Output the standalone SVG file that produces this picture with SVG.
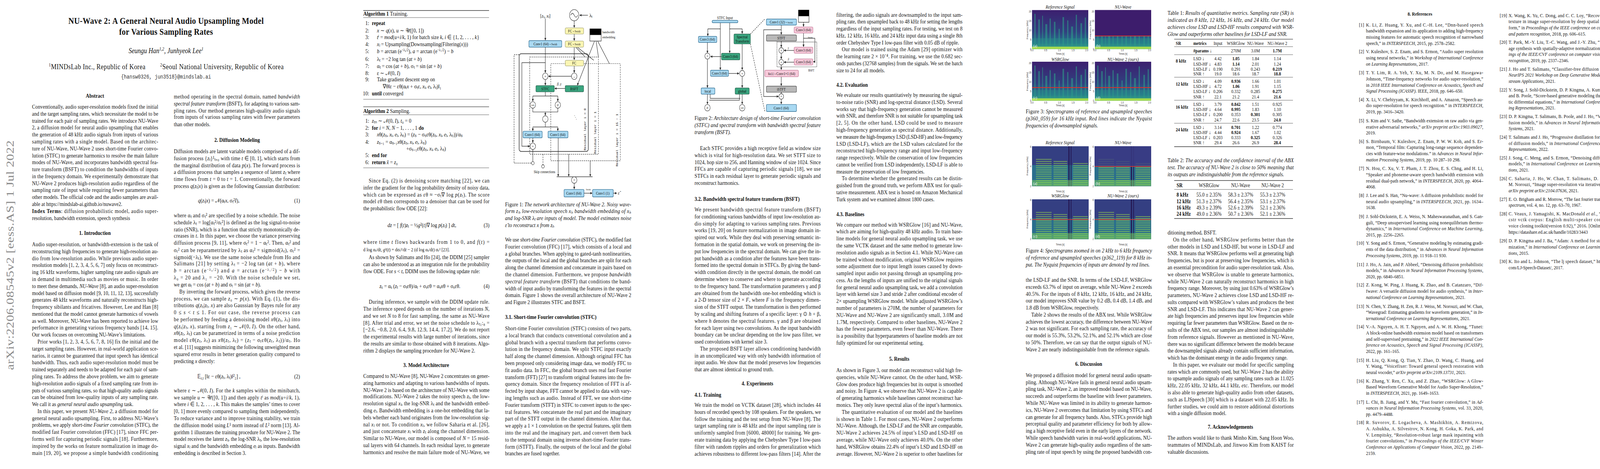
<svg xmlns="http://www.w3.org/2000/svg" xmlns:xlink="http://www.w3.org/1999/xlink" width="4240" height="1200" viewBox="0 0 4240 1200">
<style>
text{font-family:"Liberation Serif",serif;fill:#111}
.b text{font-size:12.6px}
.i{font-style:italic}
.bd{font-weight:bold}
.h1{font-size:17px;font-weight:bold;text-anchor:middle}
.h2{font-size:13.2px;font-weight:bold}
.r text{font-size:11.2px}
.rn{text-anchor:end}
.f{font-size:8.5px}
.fm{font-size:7.5px;font-family:"Liberation Mono",monospace}
.tk{font-size:5.5px;fill:#333;font-family:"Liberation Sans",sans-serif}
.cap{font-style:italic}
.bl{fill:#a9d9f2;stroke:#1f5f86;stroke-width:1}
.ye{fill:#fbf6b4;stroke:#8a8a55;stroke-width:.8}
.gr{fill:#3aa57f;stroke:#1b5a44;stroke-width:1}
.pk{fill:#f7c9da;stroke:#b05a7e;stroke-width:.8}
.gy{fill:#b8b8b8;stroke:#444;stroke-width:1}
.ln{fill:none;stroke:#222;stroke-width:1}
.ar{fill:none;stroke:#222;stroke-width:1;marker-end:url(#ah)}
.ds{fill:none;stroke:#222;stroke-width:1;stroke-dasharray:3 2}
.dt{fill:none;stroke:#222;stroke-width:1.2;stroke-dasharray:1.5 1.5}
.cw{fill:#fff;stroke:#222;stroke-width:.9}
.rule{stroke:#111;stroke-width:1}
.rule2{stroke:#111;stroke-width:.6}
.mid{text-anchor:middle}
.end{text-anchor:end}
.t text{font-size:10.6px}
</style>
<defs>
<marker id="ah" viewBox="0 0 6 6" refX="5.5" refY="3" markerWidth="5" markerHeight="5" orient="auto"><path d="M0,0 L6,3 L0,6 z" fill="#222"/></marker>
<linearGradient id="vg" x1="0" y1="0" x2="0" y2="1"><stop offset="0" stop-color="#3c1f6f"/><stop offset=".55" stop-color="#31407f"/><stop offset=".85" stop-color="#24778c"/><stop offset="1" stop-color="#44b27a"/></linearGradient>
<pattern id="harm" width="6" height="4.5" patternUnits="userSpaceOnUse"><rect width="6" height="1.8" fill="#9ad84a" opacity=".6"/></pattern>
<g id="spec3">
<rect width="144" height="83" fill="url(#vg)"/>
<g fill="#2ea38a" opacity=".55">
<rect x="6" y="8" width="3" height="75"/><rect x="16" y="20" width="4" height="63"/><rect x="26" y="12" width="2" height="71"/><rect x="34" y="30" width="5" height="53"/><rect x="45" y="18" width="3" height="65"/><rect x="56" y="25" width="4" height="58"/><rect x="68" y="40" width="3" height="43"/><rect x="78" y="15" width="4" height="68"/><rect x="90" y="22" width="3" height="61"/><rect x="100" y="35" width="5" height="48"/><rect x="112" y="10" width="3" height="73"/><rect x="124" y="28" width="4" height="55"/><rect x="135" y="16" width="3" height="67"/>
</g>
<rect x="0" y="60" width="144" height="23" fill="#2b8f8a" opacity=".4"/>
<rect x="0" y="78" width="144" height="5" fill="#a6db4e"/>
</g>
<g id="spec4">
<rect width="145" height="85" fill="#343f82"/>
<rect x="0" y="40" width="145" height="45" fill="#2a6e8d"/>
<rect x="10" y="25" width="40" height="60" fill="url(#harm)"/>
<rect x="55" y="30" width="35" height="55" fill="url(#harm)"/>
<rect x="105" y="35" width="38" height="50" fill="url(#harm)"/>
<rect x="93" y="0" width="3" height="85" fill="#261a55"/><rect x="99" y="0" width="2" height="85" fill="#261a55"/>
<rect x="0" y="72" width="145" height="13" fill="#7ccf57" opacity=".5"/>
</g>
</defs>
<rect width="4240" height="1200" fill="#fff"/>
<g transform="matrix(1,0,0,1.2015,0,-101.6)">

<!-- arXiv stamp -->
<text x="35" y="628" transform="rotate(-90 35 628)" text-anchor="middle" textLength="489" style="font-size:28px;fill:#8a8a8a">arXiv:2206.08545v2  [eess.AS]  1 Jul 2022</text>

<!-- Title block -->
<g id="title">
<text x="425" y="135" text-anchor="middle" textLength="500" style="font-size:20px;font-weight:bold">NU-Wave 2: A General Neural Audio Upsampling Model</text>
<text x="425" y="159" text-anchor="middle" textLength="240" style="font-size:20px;font-weight:bold">for Various Sampling Rates</text>
<text x="425" y="198" text-anchor="middle" style="font-size:16px;font-style:italic">Seungu Han<tspan style="font-size:10px" dy="-6">1,2</tspan><tspan dy="6">, Junhyeok Lee</tspan><tspan style="font-size:10px" dy="-6">1</tspan></text>
<text x="125" y="232" textLength="247" style="font-size:16px"><tspan style="font-size:10px" dy="-6">1</tspan><tspan dy="6">MINDsLab Inc., Republic of Korea</tspan></text>
<text x="410" y="232" textLength="316" style="font-size:16px"><tspan style="font-size:10px" dy="-6">2</tspan><tspan dy="6">Seoul National University, Republic of Korea</tspan></text>
<text x="425" y="252" text-anchor="middle" style="font-size:12px;font-family:'Liberation Mono',monospace;fill:#333">{hansw0326, jun3518}@mindslab.ai</text>
</g>

<g class="b" transform="translate(0,4)">
<!-- PAGE 1 COL 1 -->
<text class="h1" x="243" y="289">Abstract</text>
<text x="82" y="312" textLength="323">Conventionally, audio super-resolution models fixed the initial</text>
<text x="82" y="326.8" textLength="323">and the target sampling rates, which necessitate the model to be</text>
<text x="82" y="341.6" textLength="323">trained for each pair of sampling rates. We introduce NU-Wave</text>
<text x="82" y="356.4" textLength="323">2, a diffusion model for neural audio upsampling that enables</text>
<text x="82" y="371.2" textLength="323">the generation of 48 kHz audio signals from inputs of various</text>
<text x="82" y="386" textLength="323">sampling rates with a single model. Based on the architec-</text>
<text x="82" y="400.8" textLength="323">ture of NU-Wave, NU-Wave 2 uses short-time Fourier convo-</text>
<text x="82" y="415.6" textLength="323">lution (STFC) to generate harmonics to resolve the main failure</text>
<text x="82" y="430.4" textLength="323">modes of NU-Wave, and incorporates bandwidth spectral fea-</text>
<text x="82" y="445.2" textLength="323">ture transform (BSFT) to condition the bandwidths of inputs</text>
<text x="82" y="460" textLength="323">in the frequency domain. We experimentally demonstrate that</text>
<text x="82" y="474.8" textLength="323">NU-Wave 2 produces high-resolution audio regardless of the</text>
<text x="82" y="489.6" textLength="323">sampling rate of input while requiring fewer parameters than</text>
<text x="82" y="504.4" textLength="323">other models. The official code and the audio samples are avail-</text>
<text x="82" y="519.2">able at https://mindslab-ai.github.io/nuwave2.</text>
<text x="82" y="534" textLength="323"><tspan class="bd">Index Terms</tspan>: diffusion probabilistic model, audio super-</text>
<text x="82" y="548.8">resolution, bandwidth extension, speech synthesis</text>
<text class="h1" x="243" y="581">1. Introduction</text>
<text x="82" y="605" textLength="323">Audio super-resolution, or bandwidth-extension is the task of</text>
<text x="82" y="619.8" textLength="323">reconstructing high frequencies to generate high-resolution au-</text>
<text x="82" y="634.6" textLength="323">dio from low-resolution audio. While previous audio super-</text>
<text x="82" y="649.4" textLength="323">resolution models [1, 2, 3, 4, 5, 6, 7] only focus on reconstruct-</text>
<text x="82" y="664.2" textLength="323">ing 16 kHz waveforms, higher sampling rate audio signals are</text>
<text x="82" y="679" textLength="323">in demand in multimedia such as movies or music. In order</text>
<text x="82" y="693.8" textLength="323">to meet these demands, <tspan class="i">NU-Wave</tspan> [8], an audio super-resolution</text>
<text x="82" y="708.6" textLength="323">model based on diffusion model [9, 10, 11, 12, 13], successfully</text>
<text x="82" y="723.4" textLength="323">generates 48 kHz waveforms and naturally reconstructs high-</text>
<text x="82" y="738.2" textLength="323">frequency sibilants and fricatives. However, Lee and Han [8]</text>
<text x="82" y="753" textLength="323">mentioned that the model cannot generate harmonics of vowels</text>
<text x="82" y="767.8" textLength="323">as well. Moreover, NU-Wave has been reported to achieve low</text>
<text x="82" y="782.6" textLength="323">performance in generating various frequency bands [14, 15].</text>
<text x="82" y="797.4">Our work focuses on overcoming NU-Wave’s limitations.</text>
<text x="96" y="812.2" textLength="309">Prior works [1, 2, 3, 4, 5, 6, 7, 8, 16] fix the initial and the</text>
<text x="82" y="827" textLength="323">target sampling rates. However, in real-world application sce-</text>
<text x="82" y="841.8" textLength="323">narios, it cannot be guaranteed that input speech has identical</text>
<text x="82" y="856.6" textLength="323">bandwidth. Thus, each audio super-resolution model must be</text>
<text x="82" y="871.4" textLength="323">trained separately and needs to be adapted for each pair of sam-</text>
<text x="82" y="886.2" textLength="323">pling rates. To address the above problem, we aim to generate</text>
<text x="82" y="901" textLength="323">high-resolution audio signals of a fixed sampling rate from in-</text>
<text x="82" y="915.8" textLength="323">puts of various sampling rates, so that high-quality audio signals</text>
<text x="82" y="930.6" textLength="323">can be obtained from low-quality inputs of any sampling rate.</text>
<text x="82" y="945.4">We call it as <tspan class="i">general neural audio upsampling</tspan> task.</text>
<text x="96" y="960.2" textLength="309">In this paper, we present <tspan class="i">NU-Wave 2</tspan>, a diffusion model for</text>
<text x="82" y="975" textLength="323">general neural audio upsampling. First, to address NU-Wave’s</text>
<text x="82" y="989.8" textLength="323">problems, we apply <tspan class="i">short-time Fourier convolution</tspan> (STFC), the</text>
<text x="82" y="1004.6" textLength="323">modified fast Fourier convolution (FFC) [17], since FFC per-</text>
<text x="82" y="1019.4" textLength="323">forms well for capturing periodic signals [18]. Furthermore,</text>
<text x="82" y="1034.2" textLength="323">inspired by the works on feature normalization in image do-</text>
<text x="82" y="1049" textLength="323">main [19, 20], we propose a simple bandwidth conditioning</text>

<!-- PAGE 1 COL 2 -->
<text x="445" y="290" textLength="323">method operating in the spectral domain, named <tspan class="i">bandwidth</tspan></text>
<text x="445" y="305" textLength="323"><tspan class="i">spectral feature transform</tspan> (BSFT), for adapting to various sam-</text>
<text x="445" y="320" textLength="323">pling rates. Our method generates high-quality audio signals</text>
<text x="445" y="334" textLength="323">from inputs of various sampling rates with fewer parameters</text>
<text x="445" y="349">than other models.</text>
<text class="h1" x="607" y="383">2. Diffusion Modeling</text>
<text x="445" y="407" textLength="323">Diffusion models are latent variable models comprised of a dif-</text>
<text x="445" y="422" textLength="323">fusion process {<tspan class="i">z</tspan>ₜ}¹ₜ₌₀ with time <tspan class="i">t</tspan> ∈ [0, 1], which starts from</text>
<text x="445" y="437" textLength="323">the marginal distribution of data <tspan class="i">p</tspan>(<tspan class="i">x</tspan>). The forward process is</text>
<text x="445" y="451" textLength="323">a diffusion process that samples a sequence of latent <tspan class="i">z</tspan>ₜ where</text>
<text x="445" y="466" textLength="323">time flows from <tspan class="i">t</tspan> = 0 to <tspan class="i">t</tspan> = 1. Conventionally, the forward</text>
<text x="445" y="481" textLength="323">process <tspan class="i">q</tspan>(<tspan class="i">z</tspan>ₜ|<tspan class="i">x</tspan>) is given as the following Gaussian distribution:</text>
<text x="560" y="512" class="mid"><tspan class="i">q</tspan>(<tspan class="i">z</tspan>ₜ|<tspan class="i">x</tspan>) = 𝒩(αₜ<tspan class="i">x</tspan>, σₜ²<tspan class="i">I</tspan>),</text>
<text x="768" y="512" class="end">(1)</text>
<text x="445" y="543" textLength="323">where αₜ and σₜ² are specified by a noise schedule. The noise</text>
<text x="445" y="558" textLength="323">schedule λₜ = log[αₜ²/σₜ²] is defined as the log signal-to-noise</text>
<text x="445" y="573" textLength="323">ratio (SNR), which is a function that strictly monotonically de-</text>
<text x="445" y="587" textLength="323">creases in <tspan class="i">t</tspan>. In this paper, we choose the variance preserving</text>
<text x="445" y="602" textLength="323">diffusion process [9, 11], where σₜ² = 1 − αₜ². Then, αₜ² and</text>
<text x="445" y="617" textLength="323">σₜ² can be reparametrized by λₜ as αₜ² = sigmoid(λₜ), σₜ² =</text>
<text x="445" y="632" textLength="323">sigmoid(−λₜ). We use the same noise schedule from Ho and</text>
<text x="445" y="646" textLength="323">Salimans [21] by setting λₜ = −2 log tan (<tspan class="i">at</tspan> + <tspan class="i">b</tspan>), where</text>
<text x="445" y="661" textLength="323"><tspan class="i">b</tspan> = arctan (e<tspan dy="-4" style="font-size:8px">−λ₀/2</tspan><tspan dy="4">) and </tspan><tspan class="i">a</tspan> = arctan (e<tspan dy="-4" style="font-size:8px">−λ₁/2</tspan><tspan dy="4">) − </tspan><tspan class="i">b</tspan> with</text>
<text x="445" y="676" textLength="323">λ₀ = 20 and λ₁ = −20. With the noise schedule we set,</text>
<text x="445" y="691">we get αₜ = cos (<tspan class="i">at</tspan> + <tspan class="i">b</tspan>) and σₜ = sin (<tspan class="i">at</tspan> + <tspan class="i">b</tspan>).</text>
<text x="459" y="706" textLength="309">By inverting the forward process, which gives the reverse</text>
<text x="445" y="721" textLength="323">process, we can sample <tspan class="i">z</tspan>₀ ∼ <tspan class="i">p</tspan>(<tspan class="i">x</tspan>). With Eq. (1), the dis-</text>
<text x="445" y="735" textLength="323">tributions <tspan class="i">q</tspan>(<tspan class="i">z</tspan>ₛ|<tspan class="i">z</tspan>ₜ, <tspan class="i">x</tspan>) are also Gaussian by Bayes rule for any</text>
<text x="445" y="750" textLength="323">0 ≤ <tspan class="i">s</tspan> &lt; <tspan class="i">t</tspan> ≤ 1. For our case, the reverse process can</text>
<text x="445" y="765" textLength="323">be performed by feeding a denoising model <tspan class="i">x</tspan>θ(<tspan class="i">z</tspan>ₜ, λₜ) into</text>
<text x="445" y="780" textLength="323"><tspan class="i">q</tspan>(<tspan class="i">z</tspan>ₛ|<tspan class="i">z</tspan>ₜ, <tspan class="i">x</tspan>), starting from <tspan class="i">z</tspan>₁ ∼ 𝒩(0, <tspan class="i">I</tspan>). On the other hand,</text>
<text x="445" y="794" textLength="323"><tspan class="i">x</tspan>θ(<tspan class="i">z</tspan>ₜ, λₜ) can be parametrized in terms of a noise prediction</text>
<text x="445" y="809" textLength="323">model εθ(<tspan class="i">z</tspan>ₜ, λₜ) as <tspan class="i">x</tspan>θ(<tspan class="i">z</tspan>ₜ, λₜ) = (<tspan class="i">z</tspan>ₜ − σₜεθ(<tspan class="i">z</tspan>ₜ, λₜ))/αₜ. Ho</text>
<text x="445" y="824" textLength="323">et al. [11] suggests minimizing the following unweighted mean</text>
<text x="445" y="839" textLength="323">squared error results in better generation quality compared to</text>
<text x="445" y="854">predicting <tspan class="i">x</tspan> directly:</text>
<text x="560" y="886" class="mid">𝔼<tspan style="font-size:8px" dy="3">ε,t</tspan><tspan dy="-3"> [‖ε − εθ(</tspan><tspan class="i">z</tspan>ₜ, λₜ)‖²₂] ,</text>
<text x="768" y="886" class="end">(2)</text>
<text x="445" y="916" textLength="323">where ε ∼ 𝒩(0, <tspan class="i">I</tspan>). For the <tspan class="i">k</tspan> samples within the minibatch,</text>
<text x="445" y="931" textLength="323">we sample <tspan class="i">u</tspan> ∼ 𝒰([0, 1]) and then apply <tspan class="i">t</tspan>ⁱ as <tspan class="i">mod</tspan>(<tspan class="i">u</tspan>+<tspan class="i">i</tspan>/<tspan class="i">k</tspan>, 1),</text>
<text x="445" y="945" textLength="323">where <tspan class="i">i</tspan> ∈ 1, 2, . . . , <tspan class="i">k</tspan>. This makes the samples’ times to cover</text>
<text x="445" y="960" textLength="323">[0, 1] more evenly compared to sampling them independently.</text>
<text x="445" y="975" textLength="323">To reduce variance and to improve training stability, we train</text>
<text x="445" y="990" textLength="323">the diffusion model using <tspan class="i">L</tspan>¹ norm instead of <tspan class="i">L</tspan>² norm [13]. Al-</text>
<text x="445" y="1005" textLength="323">gorithm 1 illustrates the training procedure for NU-Wave 2. The</text>
<text x="445" y="1019" textLength="323">model receives the latent <tspan class="i">z</tspan>ₜ, the log-SNR λₜ, the low-resolution</text>
<text x="445" y="1034" textLength="323">signal <tspan class="i">x</tspan>ₗ and the bandwidth embedding <tspan class="i">e</tspan>ₗ as inputs. Bandwidth</text>
<text x="445" y="1049">embedding is described in Section 3.</text>

<!-- PAGE 2 COL 1 : algorithms -->
<g id="alg1">
<text x="930" y="114"><tspan class="bd">Algorithm 1</tspan> Training.</text>
<text x="945" y="134" class="end">1:</text><text x="952" y="134" class="bd">repeat</text>
<text x="945" y="150" class="end">2:</text><text x="965" y="150"><tspan class="i">x</tspan> ∼ <tspan class="i">q</tspan>(<tspan class="i">x</tspan>), <tspan class="i">u</tspan> ∼ 𝒰([0, 1])</text>
<text x="945" y="164" class="end">3:</text><text x="965" y="164"><tspan class="i">t</tspan>ⁱ = <tspan class="i">mod</tspan>(<tspan class="i">u</tspan>+<tspan class="i">i</tspan>/<tspan class="i">k</tspan>, 1) for batch size <tspan class="i">k</tspan>, <tspan class="i">i</tspan> ∈ {1, 2, . . . , <tspan class="i">k</tspan>}</text>
<text x="945" y="179" class="end">4:</text><text x="965" y="179"><tspan class="i">x</tspan>ₗ = Upsampling(Downsampling(Filtering(<tspan class="i">x</tspan>)))</text>
<text x="945" y="194" class="end">5:</text><text x="965" y="194"><tspan class="i">b</tspan> = arctan (e<tspan dy="-4" style="font-size:8px">−λ₀/2</tspan><tspan dy="4">), </tspan><tspan class="i">a</tspan> = arctan (e<tspan dy="-4" style="font-size:8px">−λ₁/2</tspan><tspan dy="4">) − </tspan><tspan class="i">b</tspan></text>
<text x="945" y="210" class="end">6:</text><text x="965" y="210">λₜ = −2 log tan (<tspan class="i">at</tspan> + <tspan class="i">b</tspan>)</text>
<text x="945" y="225" class="end">7:</text><text x="965" y="225">αₜ = cos (<tspan class="i">at</tspan> + <tspan class="i">b</tspan>), σₜ = sin (<tspan class="i">at</tspan> + <tspan class="i">b</tspan>)</text>
<text x="945" y="240" class="end">8:</text><text x="965" y="240">ε ∼ 𝒩(0, <tspan class="i">I</tspan>)</text>
<text x="945" y="254" class="end">9:</text><text x="965" y="254">Take gradient descent step on</text>
<text x="980" y="269">∇θ‖ε − εθ(αₜ<tspan class="i">x</tspan> + σₜε, <tspan class="i">x</tspan>ₗ, <tspan class="i">e</tspan>ₗ, λₜ)‖₁</text>
<text x="945" y="284" class="end">10:</text><text x="952" y="284"><tspan class="bd">until</tspan> converged</text>
</g>
<g id="alg2">
<text x="930" y="321"><tspan class="bd">Algorithm 2</tspan> Sampling.</text>
<text x="945" y="342" class="end">1:</text><text x="952" y="342"><tspan class="i">z</tspan>ₜₙ ∼ 𝒩(0, <tspan class="i">I</tspan>), <tspan class="i">t</tspan>₀ = 0</text>
<text x="945" y="357" class="end">2:</text><text x="952" y="357"><tspan class="bd">for</tspan> <tspan class="i">i</tspan> = <tspan class="i">N</tspan>, <tspan class="i">N</tspan> − 1, . . . , 1 <tspan class="bd">do</tspan></text>
<text x="945" y="371" class="end">3:</text><text x="965" y="371"><tspan class="i">x</tspan>θ(<tspan class="i">z</tspan>ₜᵢ, <tspan class="i">x</tspan>ₗ, <tspan class="i">e</tspan>ₗ, λₜᵢ) = (<tspan class="i">z</tspan>ₜᵢ − σₜᵢεθ(<tspan class="i">z</tspan>ₜᵢ, <tspan class="i">x</tspan>ₗ, <tspan class="i">e</tspan>ₗ, λₜᵢ))/αₜᵢ</text>
<text x="945" y="387" class="end">4:</text><text x="965" y="387"><tspan class="i">z</tspan>ₜᵢ₋₁ = αₜᵢ₋₁<tspan class="i">x</tspan>θ(<tspan class="i">z</tspan>ₜᵢ, <tspan class="i">x</tspan>ₗ, <tspan class="i">e</tspan>ₗ, λₜᵢ)</text>
<text x="1040" y="401">+σₜᵢ₋₁εθ(<tspan class="i">z</tspan>ₜᵢ, <tspan class="i">x</tspan>ₗ, <tspan class="i">e</tspan>ₗ, λₜᵢ)</text>
<text x="945" y="415" class="end">5:</text><text x="952" y="415" class="bd">end for</text>
<text x="945" y="430" class="end">6:</text><text x="952" y="430"><tspan class="bd">return</tspan> <tspan class="i">x̂</tspan> = <tspan class="i">z</tspan>₀</text>
</g>
<!-- PAGE 2 COL 1 text -->
<text x="944" y="469" textLength="309">Since Eq. (2) is denoising score matching [22], we can</text>
<text x="930" y="484" textLength="323">infer the gradient for the log probability density of noisy data,</text>
<text x="930" y="499" textLength="323">which can be expressed as εθ ≈ −σₜ∇ log <tspan class="i">p</tspan>(<tspan class="i">z</tspan>ₜ). The score</text>
<text x="930" y="513" textLength="323">model εθ then corresponds to a denoiser that can be used for</text>
<text x="930" y="528">the probabilistic flow ODE [22]:</text>
<text x="1080" y="564" class="mid"><tspan class="i">dz</tspan> = [ <tspan class="i">f</tspan>(<tspan class="i">t</tspan>)<tspan class="i">z</tspan>ₜ − ½<tspan class="i">g</tspan>²(<tspan class="i">t</tspan>)∇ log <tspan class="i">p</tspan>(<tspan class="i">z</tspan>ₜ) ] <tspan class="i">dt</tspan>,</text>
<text x="1253" y="564" class="end">(3)</text>
<text x="930" y="600" textLength="323">where time <tspan class="i">t</tspan> flows backwards from 1 to 0, and <tspan class="i">f</tspan>(<tspan class="i">t</tspan>) =</text>
<text x="930" y="616" style="font-size:11px">d log αₜ/d<tspan class="i">t</tspan>,   <tspan class="i">g</tspan>²(<tspan class="i">t</tspan>) = dσₜ²/d<tspan class="i">t</tspan> − 2 (d log αₜ/d<tspan class="i">t</tspan>) σₜ² [23].</text>
<text x="944" y="632" textLength="309">As shown by Salimans and Ho [24], the DDIM [25] sampler</text>
<text x="930" y="647" textLength="323">can also be understood as an integration rule for the probability</text>
<text x="930" y="662">flow ODE. For <tspan class="i">s</tspan> &lt; <tspan class="i">t</tspan>, DDIM uses the following update rule:</text>
<text x="1075" y="694" class="mid"><tspan class="i">z</tspan>ₛ = αₛ (<tspan class="i">z</tspan>ₜ − σₜεθ)/αₜ + σₛεθ = αₛ<tspan class="i">x</tspan>θ + σₛεθ.</text>
<text x="1253" y="694" class="end">(4)</text>
<text x="944" y="727" textLength="309">During inference, we sample with the DDIM update rule.</text>
<text x="930" y="742" textLength="323">The inference speed depends on the number of iterations <tspan class="i">N</tspan>,</text>
<text x="930" y="757" textLength="323">and we set <tspan class="i">N</tspan> to 8 for fast sampling, the same as NU-Wave</text>
<text x="930" y="772" textLength="323">[8]. After trial and error, we set the noise schedule to λₜ₁:₈ =</text>
<text x="930" y="786" textLength="323">[−2.6, −0.8, 2.0, 6.4, 9.8, 12.9, 14.4, 17.2]. We do not report</text>
<text x="930" y="801" textLength="323">the experimental results with large number of iterations, since</text>
<text x="930" y="816" textLength="323">the results are similar to those obtained with 8 iterations. Algo-</text>
<text x="930" y="831">rithm 2 displays the sampling procedure for NU-Wave 2.</text>
<text class="h1" x="1091" y="862">3. Model Architecture</text>
<text x="930" y="885" textLength="323">Compared to NU-Wave [8], NU-Wave 2 concentrates on gener-</text>
<text x="930" y="900" textLength="323">ating harmonics and adapting to various bandwidths of inputs.</text>
<text x="930" y="915" textLength="323">NU-Wave 2 is based on the architecture of NU-Wave with some</text>
<text x="930" y="929" textLength="323">modifications. NU-Wave 2 takes the noisy speech <tspan class="i">z</tspan>ₜ, the low-</text>
<text x="930" y="944" textLength="323">resolution signal <tspan class="i">x</tspan>ₗ, the log-SNR λₜ and the bandwidth embed-</text>
<text x="930" y="959" textLength="323">ding <tspan class="i">e</tspan>ₗ. Bandwidth embedding is a one-hot embedding that la-</text>
<text x="930" y="974" textLength="323">bels whether each band originates from the low-resolution sig-</text>
<text x="930" y="989" textLength="323">nal <tspan class="i">x</tspan>ₗ or not. To condition <tspan class="i">x</tspan>ₗ, we follow Saharia et al. [26],</text>
<text x="930" y="1003" textLength="323">and just concatenate <tspan class="i">x</tspan>ₗ with <tspan class="i">z</tspan>ₜ along the channel dimension.</text>
<text x="930" y="1018" textLength="323">Similar to NU-Wave, our model is composed of <tspan class="i">N</tspan> = 15 resid-</text>
<text x="930" y="1033" textLength="323">ual layers with 64 channels. In each residual layer, to generate</text>
<text x="930" y="1048" textLength="323">harmonics and resolve the main failure mode of NU-Wave, we</text>

<!-- PAGE 2 COL 2 -->
<text x="1293" y="520" textLength="323">Figure 1: <tspan class="cap">The network architecture of NU-Wave 2. Noisy wave-</tspan></text>
<text x="1293" y="534" textLength="323" class="cap">form zₜ, low-resolution speech xₗ, bandwidth embedding of xₗ,</text>
<text x="1293" y="549" textLength="323" class="cap">and log-SNR λₜ are inputs of model. The model estimates noise</text>
<text x="1293" y="564" class="cap">ε̂ to reconstruct x from zₜ.</text>
<text x="1293" y="595" textLength="323">We use <tspan class="i">short-time Fourier convolution</tspan> (STFC), the modified fast</text>
<text x="1293" y="610" textLength="323">Fourier convolution (FFC) [17], which consists of a local and</text>
<text x="1293" y="625" textLength="323">a global branches. When applying to gated-tanh nonlinearities,</text>
<text x="1293" y="639" textLength="323">the outputs of the local and the global branches are split for each</text>
<text x="1293" y="654" textLength="323">along the channel dimension and concatenate in pairs based on</text>
<text x="1293" y="669" textLength="323">the channel dimension. Furthermore, we propose <tspan class="i">bandwidth</tspan></text>
<text x="1293" y="684" textLength="323"><tspan class="i">spectral feature transform</tspan> (BSFT) that conditions the band-</text>
<text x="1293" y="699" textLength="323">width of input audio by transforming the features in the spectral</text>
<text x="1293" y="713" textLength="323">domain. Figure 1 shows the overall architecture of NU-Wave 2</text>
<text x="1293" y="728">and Figure 2 illustrates STFC and BSFT.</text>
<text class="h2" x="1293" y="760">3.1.  Short-time Fourier convolution (STFC)</text>
<text x="1293" y="784" textLength="323">Short-time Fourier convolution (STFC) consists of two parts,</text>
<text x="1293" y="799" textLength="323">a local branch that conducts conventional convolution and a</text>
<text x="1293" y="814" textLength="323">global branch with a spectral transform that performs convo-</text>
<text x="1293" y="828" textLength="323">lution in the frequency domain. We split STFC input exactly</text>
<text x="1293" y="843" textLength="323">half along the channel dimension. Although original FFC has</text>
<text x="1293" y="858" textLength="323">been proposed only considering image data, we modify FFC to</text>
<text x="1293" y="873" textLength="323">fit audio data. In FFC, the global branch uses real fast Fourier</text>
<text x="1293" y="888" textLength="323">transform (FFT) [27] to transform original features into the fre-</text>
<text x="1293" y="902" textLength="323">quency domain. Since the frequency resolution of FFT is af-</text>
<text x="1293" y="917" textLength="323">fected by input shape, FFT cannot be applied to data with vary-</text>
<text x="1293" y="932" textLength="323">ing lengths such as audio. Instead of FFT, we use short-time</text>
<text x="1293" y="947" textLength="323">Fourier transform (STFT) in STFC to convert inputs to the spec-</text>
<text x="1293" y="962" textLength="323">tral features. We concatenate the real part and the imaginary</text>
<text x="1293" y="976" textLength="323">part of the STFT output in the channel dimension. After that,</text>
<text x="1293" y="991" textLength="323">we apply a 1 × 1 convolution on the spectral features, split them</text>
<text x="1293" y="1006" textLength="323">into the real and the imaginary part, and convert them back</text>
<text x="1293" y="1021" textLength="323">to the temporal domain using inverse short-time Fourier trans-</text>
<text x="1293" y="1036" textLength="323">form (iSTFT). Finally, the outputs of the local and the global</text>
<text x="1293" y="1050">branches are fused together.</text>

<!-- PAGE 3 COL 1 -->
<text x="1778" y="336" textLength="323">Figure 2: <tspan class="cap">Architecture design of short-time Fourier convolution</tspan></text>
<text x="1778" y="351" textLength="323" class="cap">(STFC) and spectral transform with bandwidth spectral feature</text>
<text x="1778" y="366" class="cap">transform (BSFT).</text>
<text x="1792" y="400" textLength="309">Each STFC provides a high receptive field as window size</text>
<text x="1778" y="415" textLength="323">which is vital for high-resolution data. We set STFT size to</text>
<text x="1778" y="430" textLength="323">1024, hop size to 256, and Hanning window of size 1024. Since</text>
<text x="1778" y="444" textLength="323">FFCs are capable of capturing periodic signals [18], we use</text>
<text x="1778" y="459" textLength="323">STFCs in each residual layer to generate periodic signals and</text>
<text x="1778" y="474">reconstruct harmonics.</text>
<text class="h2" x="1778" y="508">3.2.  Bandwidth spectral feature transform (BSFT)</text>
<text x="1778" y="531" textLength="323">We present bandwidth spectral feature transform (BSFT)</text>
<text x="1778" y="546" textLength="323">for conditioning various bandwidths of input low-resolution au-</text>
<text x="1778" y="561" textLength="323">dio simply for adapting to various sampling rates. Previous</text>
<text x="1778" y="575" textLength="323">works [19, 20] on feature normalization in image domain in-</text>
<text x="1778" y="590" textLength="323">spired our work. While they deal with preserving semantic in-</text>
<text x="1778" y="605" textLength="323">formation in the spatial domain, we work on preserving the in-</text>
<text x="1778" y="620" textLength="323">put low frequencies in the spectral domain. We can give the in-</text>
<text x="1778" y="635" textLength="323">put bandwidth as a condition after the features have been trans-</text>
<text x="1778" y="649" textLength="323">formed into the spectral domain in STFCs. By giving the band-</text>
<text x="1778" y="664" textLength="323">width condition directly in the spectral domain, the model can</text>
<text x="1778" y="679" textLength="323">determine where to conserve and where to generate according</text>
<text x="1778" y="694" textLength="323">to the frequency band. The transformation parameters γ and β</text>
<text x="1778" y="709" textLength="323">are obtained from the bandwidth one-hot embedding which is</text>
<text x="1778" y="723" textLength="323">a 2-D tensor size of 2 × <tspan class="i">F</tspan>, where <tspan class="i">F</tspan> is the frequency dimen-</text>
<text x="1778" y="738" textLength="323">sion of the STFT output. The transformation is then performed</text>
<text x="1778" y="753" textLength="323">by scaling and shifting features of a specific layer: γ ⊙ <tspan class="i">h</tspan> + β,</text>
<text x="1778" y="768" textLength="323">where <tspan class="i">h</tspan> denotes the spectral features. γ and β are obtained</text>
<text x="1778" y="783" textLength="323">for each layer using two convolutions. As the input bandwidth</text>
<text x="1778" y="797" textLength="323">boundary can be unclear depending on the low pass filter, we</text>
<text x="1778" y="812">used convolutions with kernel size 3.</text>
<text x="1792" y="827" textLength="309">The proposed BSFT layer allows conditioning bandwidth</text>
<text x="1778" y="842" textLength="323">in an uncomplicated way with only bandwidth information of</text>
<text x="1778" y="856" textLength="323">input audio. We show that the model preserves low frequencies</text>
<text x="1778" y="871">that are almost identical to ground truth.</text>
<text class="h1" x="1939" y="901">4. Experiments</text>
<text class="h2" x="1778" y="925">4.1.  Training</text>
<text x="1778" y="947" textLength="323">We train the model on VCTK dataset [28], which includes 44</text>
<text x="1778" y="962" textLength="323">hours of recorded speech by 108 speakers. For the speakers, we</text>
<text x="1778" y="977" textLength="323">follow the training and the test setup from NU-Wave [8]. The</text>
<text x="1778" y="991" textLength="323">target sampling rate is 48 kHz and the input sampling rate is</text>
<text x="1778" y="1006" textLength="323">uniformly sampled from [6000, 48000] for training. We gen-</text>
<text x="1778" y="1021" textLength="323">erate training data by applying the Chebyshev Type I low-pass</text>
<text x="1778" y="1036" textLength="323">filter with random ripples and orders for generalization which</text>
<text x="1778" y="1051" textLength="323">achieves robustness to different low-pass filters [14]. After the</text>

<!-- PAGE 3 COL 2 -->
<text x="2141" y="116" textLength="323">filtering, the audio signals are downsampled to the input sam-</text>
<text x="2141" y="130.8" textLength="323">pling rate, then upsampled back to 48 kHz for setting the lengths</text>
<text x="2141" y="145.6" textLength="323">regardless of the input sampling rates. For testing, we test on 8</text>
<text x="2141" y="160.4" textLength="323">kHz, 12 kHz, 16 kHz, and 24 kHz input data using a single 8th</text>
<text x="2141" y="175.2">order Chebyshev Type I low-pass filter with 0.05 dB of ripple.</text>
<text x="2155" y="190" textLength="309">Our model is trained using the Adam [29] optimizer with</text>
<text x="2141" y="204.8" textLength="323">the learning rate 2 × 10⁻⁴. For training, we use the 0.682 sec-</text>
<text x="2141" y="219.6" textLength="323">onds patches (32768 samples) from the signals. We set the batch</text>
<text x="2141" y="234.4">size to 24 for all models.</text>
<text class="h2" x="2141" y="265">4.2.  Evaluation</text>
<text x="2141" y="287" textLength="323">We evaluate our results quantitatively by measuring the signal-</text>
<text x="2141" y="301.8" textLength="323">to-noise ratio (SNR) and log-spectral distance (LSD). Several</text>
<text x="2141" y="316.6" textLength="323">works say that high-frequency generation cannot be measured</text>
<text x="2141" y="331.4" textLength="323">with SNR, and therefore SNR is not suitable for upsampling task</text>
<text x="2141" y="346.2" textLength="323">[2, 5]. On the other hand, LSD could be used to measure</text>
<text x="2141" y="361" textLength="323">high-frequency generation as spectral distance. Additionally,</text>
<text x="2141" y="375.8" textLength="323">we measure the high-frequency LSD (LSD-HF) and low-frequency</text>
<text x="2141" y="390.6" textLength="323">LSD (LSD-LF), which are the LSD values calculated for the</text>
<text x="2141" y="405.4" textLength="323">reconstructed high-frequency range and input low-frequency</text>
<text x="2141" y="420.2" textLength="323">range respectively. While the conservation of low frequencies</text>
<text x="2141" y="435" textLength="323">cannot be verified from LSD independently, LSD-LF is able to</text>
<text x="2141" y="449.8">measure the preservation of low frequencies.</text>
<text x="2155" y="464.6" textLength="309">To determine whether the generated results can be distin-</text>
<text x="2141" y="479.4" textLength="323">guished from the ground truth, we perform ABX test for quali-</text>
<text x="2141" y="494.2" textLength="323">tative measurement. ABX test is hosted on Amazon Mechanical</text>
<text x="2141" y="509">Turk system and we examined almost 1800 cases.</text>
<text class="h2" x="2141" y="541">4.3.  Baselines</text>
<text x="2141" y="563" textLength="323">We compare our method with WSRGlow [16] and NU-Wave,</text>
<text x="2141" y="577.8" textLength="323">which are aiming for high-quality 48 kHz audio. To train base-</text>
<text x="2141" y="592.6" textLength="323">line models for general neural audio upsampling task, we use</text>
<text x="2141" y="607.4" textLength="323">the same VCTK dataset and the same method to generate low-</text>
<text x="2141" y="622.2" textLength="323">resolution audio signals as in Section 4.1. While NU-Wave can</text>
<text x="2141" y="637" textLength="323">be trained without modification, original WSRGlow requires</text>
<text x="2141" y="651.8" textLength="323">some adjustment due to input length issues caused by down-</text>
<text x="2141" y="666.6" textLength="323">sampled input audio not passing through an upsampling pro-</text>
<text x="2141" y="681.4" textLength="323">cess. As the lengths of inputs are unified to the original signals</text>
<text x="2141" y="696.2" textLength="323">for general neural audio upsampling task, we add a convolution</text>
<text x="2141" y="711" textLength="323">layer with kernel size 3 and stride 2 after conditional encoder of</text>
<text x="2141" y="725.8" textLength="323">2× upsampling WSRGlow model. While adjusted WSRGlow’s</text>
<text x="2141" y="740.6" textLength="323">number of parameters is 270M, the number of parameters for</text>
<text x="2141" y="755.4" textLength="323">NU-Wave and NU-Wave 2 are significantly small, 3.0M and</text>
<text x="2141" y="770.2" textLength="323">1.7M, respectively. Compared to other baselines, NU-Wave 2</text>
<text x="2141" y="785" textLength="323">has the fewest parameters, even fewer than NU-Wave. There</text>
<text x="2141" y="799.8" textLength="323">is a possibility that hyperparameters of baseline models are not</text>
<text x="2141" y="814.6">fully optimized for our experimental setting.</text>
<text class="h1" x="2302" y="849">5. Results</text>
<text x="2141" y="873" textLength="323">As shown in Figure 3, our model can reconstruct valid high fre-</text>
<text x="2141" y="887.8" textLength="323">quencies, while NU-Wave cannot. On the other hand, WSR-</text>
<text x="2141" y="902.6" textLength="323">Glow does produce high frequencies but its output is smoothed</text>
<text x="2141" y="917.4" textLength="323">and noisy. In Figure 4, we observe that NU-Wave 2 is capable</text>
<text x="2141" y="932.2" textLength="323">of generating harmonics while baselines cannot reconstruct har-</text>
<text x="2141" y="947" textLength="323">monics. They only leave spectral alias of the input’s harmonics.</text>
<text x="2155" y="961.8" textLength="309">The quantitative evaluation of our model and the baselines</text>
<text x="2141" y="976.6" textLength="323">is shown in Table 1. For most cases, NU-Wave 2 outperforms</text>
<text x="2141" y="991.4" textLength="323">NU-Wave. Although, the LSD-LF and the SNR are comparable,</text>
<text x="2141" y="1006.2" textLength="323">NU-Wave 2 achieves 24.5% of input’s LSD and LSD-HF on</text>
<text x="2141" y="1021" textLength="323">average, while NU-Wave only achieves 40.0%. On the other</text>
<text x="2141" y="1035.8" textLength="323">hand, WSRGlow obtains 22.4% of input’s LSD and LSD-HF on</text>
<text x="2141" y="1050.6" textLength="323">average. However, NU-Wave 2 is superior to other baselines for</text>

<!-- PAGE 4 COL 1 -->
<text x="2626" y="322" textLength="323">Figure 3: <tspan class="cap">Spectrograms of reference and upsampled speeches</tspan></text>
<text x="2626" y="337" textLength="323" class="cap">(p360_059) for 16 kHz input. Red lines indicate the Nyquist</text>
<text x="2626" y="352" class="cap">frequencies of downsampled signals.</text>
<text x="2626" y="618" textLength="323">Figure 4: <tspan class="cap">Spectrograms zoomed in on 2 kHz to 6 kHz frequency</tspan></text>
<text x="2626" y="633" textLength="323" class="cap">of reference and upsampled speeches (p362_119) for 8 kHz in-</text>
<text x="2626" y="648" class="cap">put. The Nyquist frequencies of inputs are denoted by red lines.</text>
<text x="2626" y="681" textLength="323">the LSD-LF and the SNR. In terms of the LSD-LF, WSRGlow</text>
<text x="2626" y="696" textLength="323">exceeds 63.7% of input on average, while NU-Wave 2 exceeds</text>
<text x="2626" y="711" textLength="323">40.5%. For the inputs of 8 kHz, 12 kHz, 16 kHz, and 24 kHz,</text>
<text x="2626" y="725" textLength="323">our model improves SNR value by 0.2 dB, 0.4 dB, 1.4 dB, and</text>
<text x="2626" y="740">1.8 dB from WSRGlow, respectively.</text>
<text x="2640" y="755" textLength="309">Table 2 shows the results of the ABX test. While WSRGlow</text>
<text x="2626" y="770" textLength="323">achieves the lowest accuracy, the difference between NU-Wave</text>
<text x="2626" y="784" textLength="323">2 was not significant. For each sampling rate, the accuracy of</text>
<text x="2626" y="799" textLength="323">our model is 55.3%, 53.2%, 52.1%, and 52.1% which are close</text>
<text x="2626" y="814" textLength="323">to 50%. Therefore, we can say that the output signals of NU-</text>
<text x="2626" y="829">Wave 2 are nearly indistinguishable from the reference signals.</text>
<text class="h1" x="2787" y="860">6. Discussion</text>
<text x="2626" y="884" textLength="323">We proposed a diffusion model for general neural audio upsam-</text>
<text x="2626" y="899" textLength="323">pling. Although NU-Wave fails in general neural audio upsam-</text>
<text x="2626" y="913" textLength="323">pling task, NU-Wave 2, an improved model based on NU-Wave,</text>
<text x="2626" y="928" textLength="323">succeeds and outperforms the baseline with fewer parameters.</text>
<text x="2626" y="943" textLength="323">While NU-Wave was limited in its ability to generate harmon-</text>
<text x="2626" y="958" textLength="323">ics, NU-Wave 2 overcomes that limitation by using STFCs and</text>
<text x="2626" y="973" textLength="323">can generate for all frequency bands. Also, STFCs provide high</text>
<text x="2626" y="987" textLength="323">perceptual quality and parameter efficiency for both by allow-</text>
<text x="2626" y="1002" textLength="323">ing a high receptive field even in the early layers of the network.</text>
<text x="2626" y="1017" textLength="323">While speech bandwidth varies in real-world applications, NU-</text>
<text x="2626" y="1032" textLength="323">Wave 2 can generate high-quality audio regardless of the sam-</text>
<text x="2626" y="1047" textLength="323">pling rate of input speech by using the proposed bandwidth con-</text>

<!-- PAGE 4 COL 2 -->
<text x="2989" y="112" textLength="323">Table 1: <tspan class="cap">Results of quantitative metrics. Sampling rate (SR) is</tspan></text>
<text x="2989" y="127" textLength="323" class="cap">indicated as 8 kHz, 12 kHz, 16 kHz, and 24 kHz. Our model</text>
<text x="2989" y="142" textLength="323" class="cap">achieves close LSD and LSD-HF results compared with WSR-</text>
<text x="2989" y="157" class="cap">Glow and outperforms other baselines for LSD-LF and SNR.</text>
<text x="2989" y="426" textLength="323">Table 2: <tspan class="cap">The accuracy and the confidence interval of the ABX</tspan></text>
<text x="2989" y="441" textLength="323" class="cap">test. The accuracy of NU-Wave 2 is close to 50% meaning that</text>
<text x="2989" y="456" class="cap">its outputs are indistinguishable from the reference signals.</text>
<text x="2989" y="580">ditioning method, BSFT.</text>
<text x="3003" y="594.8" textLength="309">On the other hand, WSRGlow performs better than the</text>
<text x="2989" y="609.6" textLength="323">other models in LSD and LSD-HF, but worse in LSD-LF and</text>
<text x="2989" y="624.4" textLength="323">SNR. It means that WSRGlow performs well at generating high</text>
<text x="2989" y="639.2" textLength="323">frequencies, but is poor at preserving low frequencies, which is</text>
<text x="2989" y="654" textLength="323">an essential precondition for audio super-resolution task. Also,</text>
<text x="2989" y="668.8" textLength="323">we observe that WSRGlow is unable to generate harmonics,</text>
<text x="2989" y="683.6" textLength="323">while NU-Wave 2 can naturally reconstruct harmonics in high</text>
<text x="2989" y="698.4" textLength="323">frequency range. Moreover, by using just 0.63% of WSRGlow’s</text>
<text x="2989" y="713.2" textLength="323">parameters, NU-Wave 2 achieves close LSD and LSD-HF re-</text>
<text x="2989" y="728" textLength="323">sults compared with WSRGlow’s values and produces the best</text>
<text x="2989" y="742.8" textLength="323">SNR and LSD-LF. This indicates that NU-Wave 2 can gener-</text>
<text x="2989" y="757.6" textLength="323">ate high frequencies and preserves input low frequencies while</text>
<text x="2989" y="772.4" textLength="323">requiring far fewer parameters than WSRGlow. Based on the re-</text>
<text x="2989" y="787.2" textLength="323">sults of the ABX test, our samples are almost indistinguishable</text>
<text x="2989" y="802" textLength="323">from reference signals. However as mentioned in NU-Wave,</text>
<text x="2989" y="816.8" textLength="323">there was no significant difference between the models because</text>
<text x="2989" y="831.6" textLength="323">the downsampled signals already contain sufficient information,</text>
<text x="2989" y="846.4">which has the dominant energy in the audio frequency range.</text>
<text x="3003" y="861.2" textLength="309">In this paper, we evaluate our model for specific sampling</text>
<text x="2989" y="876" textLength="323">rates which are commonly used, but NU-Wave 2 has the ability</text>
<text x="2989" y="890.8" textLength="323">to upsample audio signals of any sampling rates such as 11.025</text>
<text x="2989" y="905.6" textLength="323">kHz, 22.05 kHz, 32 kHz, 44.1 kHz, <tspan class="i">etc</tspan>. Therefore, our model</text>
<text x="2989" y="920.4" textLength="323">is also able to generate high-quality audio from other datasets,</text>
<text x="2989" y="935.2" textLength="323">such as LJSpeech [30] which is a dataset with 22.05 kHz. In</text>
<text x="2989" y="950" textLength="323">further studies, we could aim to restore additional distortions</text>
<text x="2989" y="964.8">with a single diffusion model.</text>
<text class="h1" x="3150" y="994">7. Acknowledgements</text>
<text x="2989" y="1017" textLength="323">The authors would like to thank Minho Kim, Sang Hoon Woo,</text>
<text x="2989" y="1032" textLength="323">teammates of MINDsLab, and Jinwoo Kim from KAIST for</text>
<text x="2989" y="1047">valuable discussions.</text>
</g>

<!-- TABLE 1 -->
<g id="table1" class="t">
<line class="rule" x1="3006" y1="168" x2="3310" y2="168"/>
<line class="rule2" x1="3006" y1="184" x2="3310" y2="184"/>
<line class="rule2" x1="3006" y1="201" x2="3310" y2="201"/>
<line class="rule2" x1="3006" y1="249" x2="3310" y2="249"/>
<line class="rule2" x1="3006" y1="298" x2="3310" y2="298"/>
<line class="rule2" x1="3006" y1="347" x2="3310" y2="347"/>
<line class="rule" x1="3006" y1="397" x2="3310" y2="397"/>
<text x="3010" y="180" class="bd">SR</text><text x="3055" y="180" class="bd">metrics</text>
<text x="3118" y="180" class="mid">Input</text><text x="3164" y="180" class="mid">WSRGlow</text><text x="3214" y="180" class="mid">NU-Wave</text><text x="3270" y="180" class="mid">NU-Wave 2</text>
<text x="3055" y="196" class="bd">#params ↓</text><text x="3164" y="196" class="mid">270M</text><text x="3214" y="196" class="mid">3.0M</text><text x="3270" y="196" class="mid bd">1.7M</text>
<text x="3010" y="218" class="bd">8 kHz</text>
<text x="3055" y="213">LSD ↓</text><text x="3118" y="213" class="mid">4.42</text><text x="3164" y="213" class="mid bd">1.05</text><text x="3214" y="213" class="mid">1.84</text><text x="3270" y="213" class="mid">1.14</text>
<text x="3055" y="224">LSD-HF ↓</text><text x="3118" y="224" class="mid">4.83</text><text x="3164" y="224" class="mid bd">1.14</text><text x="3214" y="224" class="mid">2.01</text><text x="3270" y="224" class="mid">1.24</text>
<text x="3055" y="235">LSD-LF ↓</text><text x="3118" y="235" class="mid">0.190</text><text x="3164" y="235" class="mid">0.291</text><text x="3214" y="235" class="mid">0.243</text><text x="3270" y="235" class="mid bd">0.219</text>
<text x="3055" y="245">SNR ↑</text><text x="3118" y="245" class="mid">19.0</text><text x="3164" y="245" class="mid">18.6</text><text x="3214" y="245" class="mid">18.7</text><text x="3270" y="245" class="mid bd">18.8</text>
<text x="3010" y="267" class="bd">12 kHz</text>
<text x="3055" y="261">LSD ↓</text><text x="3118" y="261" class="mid">4.09</text><text x="3164" y="261" class="mid bd">0.936</text><text x="3214" y="261" class="mid">1.66</text><text x="3270" y="261" class="mid">1.01</text>
<text x="3055" y="272">LSD-HF ↓</text><text x="3118" y="272" class="mid">4.72</text><text x="3164" y="272" class="mid bd">1.06</text><text x="3214" y="272" class="mid">1.91</text><text x="3270" y="272" class="mid">1.15</text>
<text x="3055" y="283">LSD-LF ↓</text><text x="3118" y="283" class="mid">0.206</text><text x="3164" y="283" class="mid">0.332</text><text x="3214" y="283" class="mid">0.285</text><text x="3270" y="283" class="mid bd">0.275</text>
<text x="3055" y="294">SNR ↑</text><text x="3118" y="294" class="mid">22.1</text><text x="3164" y="294" class="mid">21.2</text><text x="3214" y="294" class="mid">21.4</text><text x="3270" y="294" class="mid bd">21.6</text>
<text x="3010" y="316" class="bd">16 kHz</text>
<text x="3055" y="310">LSD ↓</text><text x="3118" y="310" class="mid">3.79</text><text x="3164" y="310" class="mid bd">0.842</text><text x="3214" y="310" class="mid">1.51</text><text x="3270" y="310" class="mid">0.925</text>
<text x="3055" y="321">LSD-HF ↓</text><text x="3118" y="321" class="mid">4.64</text><text x="3164" y="321" class="mid bd">0.995</text><text x="3214" y="321" class="mid">1.83</text><text x="3270" y="321" class="mid">1.10</text>
<text x="3055" y="332">LSD-LF ↓</text><text x="3118" y="332" class="mid">0.200</text><text x="3164" y="332" class="mid">0.353</text><text x="3214" y="332" class="mid bd">0.301</text><text x="3270" y="332" class="mid">0.305</text>
<text x="3055" y="343">SNR ↑</text><text x="3118" y="343" class="mid">24.7</text><text x="3164" y="343" class="mid">22.6</text><text x="3214" y="343" class="mid">23.5</text><text x="3270" y="343" class="mid bd">24.0</text>
<text x="3010" y="364" class="bd">24 kHz</text>
<text x="3055" y="359">LSD ↓</text><text x="3118" y="359" class="mid">3.14</text><text x="3164" y="359" class="mid bd">0.701</text><text x="3214" y="359" class="mid">1.22</text><text x="3270" y="359" class="mid">0.774</text>
<text x="3055" y="370">LSD-HF ↓</text><text x="3118" y="370" class="mid">4.44</text><text x="3164" y="370" class="mid bd">0.924</text><text x="3214" y="370" class="mid">1.67</text><text x="3270" y="370" class="mid">1.02</text>
<text x="3055" y="381">LSD-LF ↓</text><text x="3118" y="381" class="mid">0.203</text><text x="3164" y="381" class="mid">0.333</text><text x="3214" y="381" class="mid bd">0.325</text><text x="3270" y="381" class="mid">0.326</text>
<text x="3055" y="392">SNR ↑</text><text x="3118" y="392" class="mid">29.4</text><text x="3164" y="392" class="mid">26.6</text><text x="3214" y="392" class="mid">26.9</text><text x="3270" y="392" class="mid bd">28.4</text>
</g>

<!-- TABLE 2 -->
<g id="table2">
<line class="rule" x1="3006" y1="469" x2="3310" y2="469"/>
<line class="rule2" x1="3006" y1="488" x2="3310" y2="488"/>
<line class="rule" x1="3006" y1="550" x2="3310" y2="550"/>
<text x="3012" y="483" class="bd" font-size="12">SR</text><text x="3095" y="483" class="mid" font-size="12">WSRGlow</text><text x="3176" y="483" class="mid" font-size="12">NU-Wave</text><text x="3258" y="483" class="mid" font-size="12">NU-Wave 2</text>
<text x="3012" y="503" class="bd" font-size="12">8 kHz</text><text x="3095" y="503" class="mid" font-size="12">55.0 ± 2.35%</text><text x="3176" y="503" class="mid" font-size="12">58.3 ± 2.37%</text><text x="3258" y="503" class="mid" font-size="12">55.3 ± 2.37%</text>
<text x="3012" y="517" class="bd" font-size="12">12 kHz</text><text x="3095" y="517" class="mid" font-size="12">51.3 ± 2.37%</text><text x="3176" y="517" class="mid" font-size="12">56.4 ± 2.35%</text><text x="3258" y="517" class="mid" font-size="12">53.1 ± 2.37%</text>
<text x="3012" y="531" class="bd" font-size="12">16 kHz</text><text x="3095" y="531" class="mid" font-size="12">49.3 ± 2.39%</text><text x="3176" y="531" class="mid" font-size="12">52.6 ± 2.39%</text><text x="3258" y="531" class="mid" font-size="12">52.1 ± 2.36%</text>
<text x="3012" y="544" class="bd" font-size="12">24 kHz</text><text x="3095" y="544" class="mid" font-size="12">49.0 ± 2.36%</text><text x="3176" y="544" class="mid" font-size="12">50.7 ± 2.36%</text><text x="3258" y="544" class="mid" font-size="12">52.1 ± 2.36%</text>
</g>

<!-- algorithm rules -->
<g id="alg-rules">
<line class="rule" x1="930" y1="107" x2="1252" y2="107" stroke-width="1.4"/>
<line class="rule2" x1="930" y1="122" x2="1252" y2="122"/>
<line class="rule2" x1="930" y1="296" x2="1252" y2="296"/>
<line class="rule" x1="930" y1="312" x2="1252" y2="312" stroke-width="1.4"/>
<line class="rule2" x1="930" y1="329" x2="1252" y2="329"/>
<line class="rule2" x1="930" y1="442" x2="1252" y2="442"/>
</g>

<!-- FIGURE 1 -->
<g id="fig1">
<g id="fig1-connectors">
<rect x="1329" y="199" width="177" height="208" rx="5" fill="none" stroke="#222" stroke-width="1.3"/>
<rect x="1356" y="206" width="176" height="207" fill="none" stroke="#333" stroke-width="1" stroke-dasharray="3 2"/>
<rect x="1410" y="220" width="178" height="207" fill="none" stroke="#333" stroke-width="1" stroke-dasharray="3 2"/>
<path class="ds" d="M1329,201 H1316 V432 H1360"/>
<path class="ds" d="M1390,413 V435"/>
<path class="ar" d="M1396,124 V170"/>
<path class="ar" d="M1470,129 V143"/>
<path class="ar" d="M1505,117 H1484"/>
<path class="ar" d="M1470,157 V171"/>
<path class="ar" d="M1470,185 V212"/>
<path class="ln" d="M1474,185 L1498,206 M1478,185 L1520,213"/>
<path class="ar" d="M1522,172 L1478,266"/>
<path class="ln" d="M1526,172 L1532,206 M1530,172 L1560,220"/>
<path class="ar" d="M1396,185 V239"/>
<path class="ar" d="M1470,225 V239"/>
<path class="ar" d="M1463,247 H1404"/>
<path class="ar" d="M1396,254 V266"/>
<path class="ar" d="M1447,273 H1420"/>
<path class="ln" d="M1396,280 V289 M1364,289 H1428"/>
<path class="ar" d="M1364,289 V300"/>
<path class="ar" d="M1428,289 V300"/>
<path class="ln" d="M1364,315 V323 H1428 V315"/>
<path class="ar" d="M1396,323 V330"/>
<path class="ln" d="M1396,345 V355 M1364,355 H1428"/>
<path class="ar" d="M1364,355 V363"/>
<path class="ar" d="M1428,355 V363"/>
<path class="ar" d="M1364,378 V388"/>
<path class="ar" d="M1396,218 H1336 V396 H1356"/>
<path class="ln" d="M1364,403 V428"/>
<path class="ar" d="M1429,378 V460"/>
<path class="ar" d="M1456,413 V460"/>
<path class="ar" d="M1511,427 V460"/>
<path class="ln" d="M1425,461 H1517"/>
<path class="ar" d="M1470,475 V487"/>
<path class="ar" d="M1495,496 H1516"/>
<path class="ar" d="M1570,496 H1579"/>
</g>
<g id="f1-inputs"><text x="1396" y="122" class="mid" font-size="11">[<tspan class="i">z</tspan>ₜ, <tspan class="i">x</tspan>ₗ]</text><text x="1509" y="121" font-size="11">λₜ</text></g>
<g id="f1-wave"><circle cx="1470" cy="117" r="12" class="cw"/><path d="M1461,117 q4.5,-8 9,0 t9,0" class="ln"/></g>
<g id="f1-fcswish1"><rect x="1447" y="144" width="47" height="13" rx="2" class="ye"/><text x="1470" y="153.5" class="mid f">FC <tspan font-size="6">+ Swish</tspan></text></g>
<g id="f1-fcswish2"><rect x="1447" y="172" width="47" height="13" rx="2" class="ye"/><text x="1470" y="181.5" class="mid f">FC <tspan font-size="6">+ Swish</tspan></text></g>
<g id="f1-bwemb"><rect x="1510" y="146" width="29" height="26" fill="#fff" stroke="#222"/><rect x="1510" y="146" width="29" height="13" fill="#000"/><text x="1542" y="155" font-size="7.5">bandwidth</text><text x="1542" y="166" font-size="7.5">embedding</text></g>
<g id="f1-conv1swish"><rect x="1354" y="171" width="84" height="14" rx="2" class="bl"/><text x="1396" y="181" class="mid f">Conv1 (64) <tspan font-size="6">+ Swish</tspan></text></g>
<g id="f1-fc"><rect x="1447" y="213" width="47" height="12" rx="2" class="ye"/><text x="1470" y="222" class="mid f">FC</text></g>
<g id="f1-plus1"><circle cx="1396" cy="247" r="7" class="cw"/><text x="1396" y="250" class="mid" font-size="9">+</text></g>
<g id="f1-bc"><circle cx="1470" cy="247" r="7" class="cw"/><text x="1470" y="250" class="mid" font-size="7">↔</text></g>
<g id="f1-stfc"><rect x="1372" y="267" width="47" height="13" rx="2" class="gr"/><text x="1396" y="276.5" class="mid f">STFC</text></g>
<g id="f1-bsft"><rect x="1447" y="267" width="47" height="13" rx="2" class="gr"/><text x="1470" y="276.5" class="mid f">BSFT</text><text x="1426" y="266" font-size="8" class="i">β, γ</text></g>
<g id="f1-tanh"><circle cx="1364" cy="308" r="7" class="cw"/><text x="1364" y="310" class="mid" font-size="4.5">tanh</text></g>
<g id="f1-sig"><circle cx="1428" cy="308" r="7" class="cw"/><text x="1428" y="311" class="mid" font-size="8">σ</text></g>
<g id="f1-mul"><circle cx="1396" cy="338" r="7" class="cw"/><text x="1396" y="341" class="mid" font-size="8">·</text></g>
<g id="f1-conv1a"><rect x="1339" y="364" width="49" height="14" rx="2" class="bl"/><text x="1363" y="374" class="mid f">Conv1 (64)</text></g>
<g id="f1-conv1b"><rect x="1403" y="364" width="51" height="14" rx="2" class="bl"/><text x="1428" y="374" class="mid f">Conv1 (64)</text></g>
<g id="f1-plus2"><circle cx="1364" cy="396" r="7" class="cw"/><text x="1364" y="399" class="mid" font-size="9">+</text></g>
<g id="f1-labels">
<text x="1500" y="360" transform="rotate(-90 1500 360)" class="mid fm">Residual layer i = 0</text>
<text x="1526" y="367" transform="rotate(-90 1526 367)" class="mid fm">Residual layer i = 1</text>
<text x="1582" y="383" transform="rotate(-90 1582 383)" class="mid fm">Residual layer i = 15 − 1</text>
<text x="1470" y="330" font-size="9" transform="rotate(60 1470 330)">. . .</text>
</g>
<g id="f1-skip"><circle cx="1364" cy="432" r="3.5" class="cw"/><circle cx="1390" cy="439" r="3.5" class="cw"/><text x="1394" y="453" class="mid" font-size="8">Skip connections</text></g>
<g id="f1-sum"><circle cx="1470" cy="468" r="7" class="cw"/><text x="1470" y="471" class="mid" font-size="9">+</text></g>
<g id="f1-conv1c"><rect x="1444" y="488" width="51" height="16" rx="2" class="bl"/><text x="1469" y="499" class="mid f">Conv1 (64)</text><text x="1506" y="490" class="mid" font-size="5">Swish</text></g>
<g id="f1-conv1d"><rect x="1517" y="488" width="53" height="16" rx="2" class="bl"/><text x="1543" y="499" class="mid f">Conv1 (1)</text><text x="1582" y="499" font-size="10" class="i">ε̂</text></g>
</g>

<!-- FIGURE 2 -->
<g id="fig2">
<g id="fig2-connectors">
<path class="ln" d="M1844,133 V146 H1812"/>
<path class="ar" d="M1812,146 V161"/>
<path class="ln" d="M1868,133 V146 H1900"/>
<path class="ar" d="M1900,146 V156"/>
<path class="ar" d="M1844,146 V233"/>
<path class="ar" d="M1868,146 V197"/>
<path class="ar" d="M1811,175 V197"/>
<path class="ar" d="M1847,205 H1819"/>
<path class="ar" d="M1811,211 V271"/>
<path class="ar" d="M1900,178 V233"/>
<path class="ar" d="M1865,241 H1892"/>
<path class="ar" d="M1900,248 V271"/>
<path class="ln" d="M1818,285 V294 H1895 M1893,285 V298 H1816"/>
<path class="ar" d="M1811,285 V306"/>
<path class="ar" d="M1900,285 V306"/>
<path class="ds" d="M1921,157 L1958,125 M1921,178 L1958,322"/>
<path class="ar" d="M2057,132 V141"/>
<path class="ar" d="M2000,138 V158"/>
<path class="ar" d="M2000,148 H1955 V290 H1993"/>
<path class="ar" d="M2000,172 V185"/>
<path class="ar" d="M2000,198 V210"/>
<path class="ar" d="M2000,223 V233"/>
<path class="ar" d="M2000,248 V267"/>
<path class="ar" d="M2000,281 V283"/>
<path class="ar" d="M2000,296 V306"/>
<path class="ar" d="M2057,155 V184"/>
<path class="ar" d="M2057,166 H2086 V216 H2082"/>
<path class="ar" d="M2033,192 H2007"/>
<path class="ar" d="M2033,217 H2007"/>
<rect x="1989" y="174" width="102" height="53" class="dt"/>
</g>
<g id="f2-input"><text x="1856" y="125" class="mid f">STFC Input</text><rect x="1823" y="128" width="66" height="5" rx="2.5" class="bl"/></g>
<g id="f2-conv3a"><rect x="1788" y="162" width="47" height="13" rx="2" class="bl"/><text x="1811" y="171.5" class="mid f">Conv3 (64)</text></g>
<g id="f2-spectral"><rect x="1879" y="157" width="42" height="21" rx="2" class="gr"/><text x="1900" y="166" class="mid f">Spectral</text><text x="1900" y="175" class="mid f">Transform</text></g>
<g id="f2-plus1"><circle cx="1811" cy="204" r="6.5" class="cw"/><text x="1811" y="207" class="mid" font-size="9">+</text></g>
<g id="f2-conv3g"><rect x="1847" y="198" width="47" height="14" rx="2" class="gr"/><text x="1870" y="208" class="mid f">Conv3 (64)</text></g>
<g id="f2-conv3b"><rect x="1819" y="234" width="46" height="13" rx="2" class="bl"/><text x="1842" y="243.5" class="mid f">Conv3 (64)</text></g>
<g id="f2-plus2"><circle cx="1900" cy="241" r="6.5" class="cw"/><text x="1900" y="244" class="mid" font-size="9">+</text></g>
<g id="f2-local"><rect x="1795" y="272" width="35" height="13" rx="2" class="bl"/><text x="1812" y="281.5" class="mid f">local</text></g>
<g id="f2-global"><rect x="1882" y="272" width="36" height="13" rx="2" class="gr"/><text x="1900" y="281.5" class="mid f">global</text></g>
<g id="f2-sig"><circle cx="1811" cy="314" r="7" class="cw"/><text x="1811" y="317" class="mid" font-size="8">σ</text></g>
<g id="f2-tanh"><circle cx="1900" cy="314" r="7" class="cw"/><text x="1900" y="316" class="mid" font-size="4.5">tanh</text></g>
<g id="f2-bw"><rect x="2044" y="106" width="27" height="26" fill="#fff" stroke="#222"/><rect x="2044" y="106" width="27" height="13" fill="#000"/></g>
<g id="f2-conv1s"><rect x="1962" y="125" width="77" height="13" rx="2" class="bl"/><text x="2000" y="134.5" class="mid f">Conv1 (32) <tspan font-size="5.5">+ Swish</tspan></text></g>
<g id="f2-conv3p"><rect x="2033" y="142" width="48" height="13" rx="2" class="pk"/><text x="2057" y="151.5" class="mid f">Conv3 (64)</text><text x="2068" y="166" font-size="5">Swish</text></g>
<g id="f2-stft"><rect x="1962" y="159" width="77" height="13" rx="2" class="gy"/><text x="2000" y="168.5" class="mid f">STFT</text></g>
<g id="f2-mul"><circle cx="2000" cy="192" r="6" class="cw"/><text x="2000" y="195" class="mid" font-size="8">×</text></g>
<g id="f2-add"><circle cx="2000" cy="217" r="6" class="cw"/><text x="2000" y="220" class="mid" font-size="9">+</text></g>
<g id="f2-gamma"><rect x="2033" y="185" width="48" height="13" rx="2" class="pk"/><text x="2057" y="194.5" class="mid f">Conv3 (64)</text><text x="2017" y="189" font-size="6" class="i">γ</text></g>
<g id="f2-beta"><rect x="2033" y="210" width="48" height="13" rx="2" class="pk"/><text x="2057" y="219.5" class="mid f">Conv3 (64)</text><text x="2017" y="213" font-size="6" class="i">β</text></g>
<text x="2077" y="237" class="mid" font-size="6.5">BSFT</text>
<g id="f2-relu"><rect x="1958" y="234" width="86" height="14" rx="2" class="pk"/><text x="2001" y="244" class="mid f"><tspan font-size="6">ReLU + </tspan>Conv1×1 (64)</text></g>
<g id="f2-istft"><rect x="1962" y="268" width="77" height="13" rx="2" class="gy"/><text x="2000" y="277.5" class="mid f">iSTFT</text></g>
<g id="f2-plus3"><circle cx="2000" cy="290" r="6" class="cw"/><text x="2000" y="293" class="mid" font-size="9">+</text></g>
<g id="f2-conv1"><rect x="1962" y="307" width="77" height="15" rx="2" class="bl"/><text x="2000" y="317.5" class="mid f">Conv1 (64)</text></g>
</g>

<!-- FIGURE 3 -->
<g id="fig3">
<text x="2714" y="103" class="mid i" font-size="11">Reference Signal</text>
<text x="2875" y="103" class="mid i" font-size="11">NU-Wave</text>
<use href="#spec3" x="2642" y="106"/>
<use href="#spec3" x="2803" y="106"/>
<rect x="2803" y="106" width="144" height="55" fill="#3d1d6c"/>
<line x1="2803" y1="161" x2="2947" y2="161" stroke="#e0302a" stroke-width="1.5"/>
<text x="2714" y="214" class="mid i" font-size="11">WSRGlow</text>
<text x="2875" y="214" class="mid i" font-size="11">NU-Wave 2 (ours)</text>
<use href="#spec3" x="2642" y="216"/>
<use href="#spec3" x="2803" y="216"/>
<line x1="2642" y1="271" x2="2786" y2="271" stroke="#e0302a" stroke-width="1.5"/>
<line x1="2803" y1="271" x2="2947" y2="271" stroke="#e0302a" stroke-width="1.5"/>
<g font-size="9"><text x="2645" y="185" fill="#fff" style="fill:#fff">(a)</text><text x="2806" y="185" style="fill:#fff">(b)</text><text x="2645" y="296" style="fill:#fff">(c)</text><text x="2806" y="296" style="fill:#fff">(d)</text></g>
<text x="2714" y="201" class="mid tk">Times [s]</text><text x="2875" y="201" class="mid tk">Times [s]</text>
<text x="2714" y="311" class="mid tk">Times [s]</text><text x="2875" y="311" class="mid tk">Times [s]</text>
<text x="2632" y="148" class="mid tk" transform="rotate(-90 2632 148)">Frequency [kHz]</text>
<text x="2793" y="148" class="mid tk" transform="rotate(-90 2793 148)">Frequency [kHz]</text>
<text x="2632" y="258" class="mid tk" transform="rotate(-90 2632 258)">Frequency [kHz]</text>
<text x="2793" y="258" class="mid tk" transform="rotate(-90 2793 258)">Frequency [kHz]</text>
<text x="2642" y="194" class="mid tk">0.0</text><text x="2677" y="194" class="mid tk">0.5</text><text x="2712" y="194" class="mid tk">1.0</text><text x="2747" y="194" class="mid tk">1.5</text><text x="2782" y="194" class="mid tk">2.0</text>
<text x="2803" y="194" class="mid tk">0.0</text><text x="2838" y="194" class="mid tk">0.5</text><text x="2873" y="194" class="mid tk">1.0</text><text x="2908" y="194" class="mid tk">1.5</text><text x="2943" y="194" class="mid tk">2.0</text>
<text x="2642" y="305" class="mid tk">0.0</text><text x="2677" y="305" class="mid tk">0.5</text><text x="2712" y="305" class="mid tk">1.0</text><text x="2747" y="305" class="mid tk">1.5</text><text x="2782" y="305" class="mid tk">2.0</text>
<text x="2803" y="305" class="mid tk">0.0</text><text x="2838" y="305" class="mid tk">0.5</text><text x="2873" y="305" class="mid tk">1.0</text><text x="2908" y="305" class="mid tk">1.5</text><text x="2943" y="305" class="mid tk">2.0</text>
<text x="2640" y="191" class="end tk">0</text><text x="2640" y="171" class="end tk">5</text><text x="2640" y="151" class="end tk">10</text><text x="2640" y="131" class="end tk">15</text><text x="2640" y="111" class="end tk">20</text>
<text x="2801" y="191" class="end tk">0</text><text x="2801" y="171" class="end tk">5</text><text x="2801" y="151" class="end tk">10</text><text x="2801" y="131" class="end tk">15</text><text x="2801" y="111" class="end tk">20</text>
<text x="2640" y="301" class="end tk">0</text><text x="2640" y="281" class="end tk">5</text><text x="2640" y="261" class="end tk">10</text><text x="2640" y="241" class="end tk">15</text><text x="2640" y="221" class="end tk">20</text>
<text x="2801" y="301" class="end tk">0</text><text x="2801" y="281" class="end tk">5</text><text x="2801" y="261" class="end tk">10</text><text x="2801" y="241" class="end tk">15</text><text x="2801" y="221" class="end tk">20</text>
</g>

<!-- FIGURE 4 -->
<g id="fig4">
<text x="2714" y="392" class="mid i" font-size="11">Reference Signal</text>
<text x="2875" y="392" class="mid i" font-size="11">NU-Wave</text>
<use href="#spec4" x="2642" y="396"/>
<use href="#spec4" x="2802" y="396"/>
<rect x="2802" y="396" width="145" height="43" fill="#3a3c84" opacity=".8"/>
<line x1="2802" y1="439" x2="2947" y2="439" stroke="#e0302a" stroke-width="1.5"/>
<text x="2714" y="505" class="mid i" font-size="11">WSRGlow</text>
<text x="2875" y="505" class="mid i" font-size="11">NU-Wave 2 (ours)</text>
<use href="#spec4" x="2642" y="509"/>
<use href="#spec4" x="2802" y="509"/>
<line x1="2642" y1="552" x2="2787" y2="552" stroke="#e0302a" stroke-width="1.5"/>
<line x1="2802" y1="552" x2="2947" y2="552" stroke="#e0302a" stroke-width="1.5"/>
<g font-size="9"><text x="2645" y="478" style="fill:#fff">(a)</text><text x="2805" y="478" style="fill:#fff">(b)</text><text x="2645" y="591" style="fill:#fff">(c)</text><text x="2805" y="591" style="fill:#fff">(d)</text></g>
<text x="2714" y="494" class="mid tk">Times [s]</text><text x="2875" y="494" class="mid tk">Times [s]</text>
<text x="2714" y="607" class="mid tk">Times [s]</text><text x="2875" y="607" class="mid tk">Times [s]</text>
<text x="2632" y="438" class="mid tk" transform="rotate(-90 2632 438)">Frequency [kHz]</text>
<text x="2793" y="438" class="mid tk" transform="rotate(-90 2793 438)">Frequency [kHz]</text>
<text x="2632" y="551" class="mid tk" transform="rotate(-90 2632 551)">Frequency [kHz]</text>
<text x="2793" y="551" class="mid tk" transform="rotate(-90 2793 551)">Frequency [kHz]</text>
<text x="2640" y="483" class="end tk">2</text><text x="2640" y="441" class="end tk">4</text><text x="2640" y="399" class="end tk">6</text>
<text x="2800" y="483" class="end tk">2</text><text x="2800" y="441" class="end tk">4</text><text x="2800" y="399" class="end tk">6</text>
<text x="2640" y="596" class="end tk">2</text><text x="2640" y="554" class="end tk">4</text><text x="2640" y="512" class="end tk">6</text>
<text x="2800" y="596" class="end tk">2</text><text x="2800" y="554" class="end tk">4</text><text x="2800" y="512" class="end tk">6</text>
</g>

<!-- REFERENCES -->
<g id="refs" class="r">
<text class="h1" x="3635" y="118">8. References</text>
<g transform="translate(0,4)">
<text x="3492" y="137" class="rn">[1]</text><text x="3497" y="137" textLength="300">K. Li, Z. Huang, Y. Xu, and C.-H. Lee, “Dnn-based speech</text>
<text x="3497" y="150" textLength="300">bandwidth expansion and its application to adding high-frequency</text>
<text x="3497" y="163" textLength="300">missing features for automatic speech recognition of narrowband</text>
<text x="3497" y="176">speech,” in <tspan class="i">INTERSPEECH</tspan>, 2015, pp. 2578–2582.</text>
<text x="3492" y="194" class="rn">[2]</text><text x="3497" y="194" textLength="300">V. Kuleshov, S. Z. Enam, and S. Ermon, “Audio super resolution</text>
<text x="3497" y="207" textLength="300">using neural networks,” in <tspan class="i">Workshop of International Conference</tspan></text>
<text x="3497" y="220"><tspan class="i">on Learning Representations</tspan>, 2017.</text>
<text x="3492" y="239" class="rn">[3]</text><text x="3497" y="239" textLength="300">T. Y. Lim, R. A. Yeh, Y. Xu, M. N. Do, and M. Hasegawa-</text>
<text x="3497" y="252" textLength="300">Johnson, “Time-frequency networks for audio super-resolution,”</text>
<text x="3497" y="265" textLength="300">in <tspan class="i">2018 IEEE International Conference on Acoustics, Speech and</tspan></text>
<text x="3497" y="278"><tspan class="i">Signal Processing (ICASSP)</tspan>.   IEEE, 2018, pp. 646–650.</text>
<text x="3492" y="296" class="rn">[4]</text><text x="3497" y="296" textLength="300">X. Li, V. Chebiyyam, K. Kirchhoff, and A. Amazon, “Speech au-</text>
<text x="3497" y="309" textLength="300">dio super-resolution for speech recognition.” in <tspan class="i">INTERSPEECH</tspan>,</text>
<text x="3497" y="322">2019, pp. 3416–3420.</text>
<text x="3492" y="341" class="rn">[5]</text><text x="3497" y="341" textLength="300">S. Kim and V. Sathe, “Bandwidth extension on raw audio via gen-</text>
<text x="3497" y="354" textLength="300">erative adversarial networks,” <tspan class="i">arXiv preprint arXiv:1903.09027</tspan>,</text>
<text x="3497" y="367">2019.</text>
<text x="3492" y="385" class="rn">[6]</text><text x="3497" y="385" textLength="300">S. Birnbaum, V. Kuleshov, Z. Enam, P. W. W. Koh, and S. Er-</text>
<text x="3497" y="398" textLength="300">mon, “Temporal film: Capturing long-range sequence dependen-</text>
<text x="3497" y="411" textLength="300">cies with feature-wise modulations.” in <tspan class="i">Advances in Neural Infor-</tspan></text>
<text x="3497" y="424"><tspan class="i">mation Processing Systems</tspan>, 2019, pp. 10 287–10 298.</text>
<text x="3492" y="443" class="rn">[7]</text><text x="3497" y="443" textLength="300">N. Hou, C. Xu, V. T. Pham, J. T. Zhou, E. S. Chng, and H. Li,</text>
<text x="3497" y="456" textLength="300">“Speaker and phoneme-aware speech bandwidth extension with</text>
<text x="3497" y="469" textLength="300">residual dual-path network,” in <tspan class="i">INTERSPEECH</tspan>, 2020, pp. 4064–</text>
<text x="3497" y="482">4068.</text>
<text x="3492" y="500" class="rn">[8]</text><text x="3497" y="500" textLength="300">J. Lee and S. Han, “Nu-wave: A diffusion probabilistic model for</text>
<text x="3497" y="513" textLength="300">neural audio upsampling,” in <tspan class="i">INTERSPEECH</tspan>, 2021, pp. 1634–</text>
<text x="3497" y="526">1638.</text>
<text x="3492" y="545" class="rn">[9]</text><text x="3497" y="545" textLength="300">J. Sohl-Dickstein, E. A. Weiss, N. Maheswaranathan, and S. Gan-</text>
<text x="3497" y="558" textLength="300">guli, “Deep unsupervised learning using nonequilibrium thermo-</text>
<text x="3497" y="571" textLength="300">dynamics,” in <tspan class="i">International Conference on Machine Learning</tspan>,</text>
<text x="3497" y="584">2015, pp. 2256–2265.</text>
<text x="3492" y="602" class="rn">[10]</text><text x="3497" y="602" textLength="300">Y. Song and S. Ermon, “Generative modeling by estimating gradi-</text>
<text x="3497" y="615" textLength="300">ents of the data distribution,” in <tspan class="i">Advances in Neural Information</tspan></text>
<text x="3497" y="628"><tspan class="i">Processing Systems</tspan>, 2019, pp. 11 918–11 930.</text>
<text x="3492" y="647" class="rn">[11]</text><text x="3497" y="647" textLength="300">J. Ho, A. Jain, and P. Abbeel, “Denoising diffusion probabilistic</text>
<text x="3497" y="660" textLength="300">models,” in <tspan class="i">Advances in Neural Information Processing Systems</tspan>,</text>
<text x="3497" y="673">2020, pp. 6840–6851.</text>
<text x="3492" y="691" class="rn">[12]</text><text x="3497" y="691" textLength="300">Z. Kong, W. Ping, J. Huang, K. Zhao, and B. Catanzaro, “Dif-</text>
<text x="3497" y="704" textLength="300">fwave: A versatile diffusion model for audio synthesis,” in <tspan class="i">Inter-</tspan></text>
<text x="3497" y="717"><tspan class="i">national Conference on Learning Representations</tspan>, 2021.</text>
<text x="3492" y="736" class="rn">[13]</text><text x="3497" y="736" textLength="300">N. Chen, Y. Zhang, H. Zen, R. J. Weiss, M. Norouzi, and W. Chan,</text>
<text x="3497" y="749" textLength="300">“Wavegrad: Estimating gradients for waveform generation,” in <tspan class="i">In-</tspan></text>
<text x="3497" y="762"><tspan class="i">ternational Conference on Learning Representations</tspan>, 2021.</text>
<text x="3492" y="780" class="rn">[14]</text><text x="3497" y="780" textLength="300">V.-A. Nguyen, A. H. T. Nguyen, and A. W. H. Khong, “Tunet:</text>
<text x="3497" y="793" textLength="300">A block-online bandwidth extension model based on transformers</text>
<text x="3497" y="806" textLength="300">and self-supervised pretraining,” in <tspan class="i">2022 IEEE International Con-</tspan></text>
<text x="3497" y="819" textLength="300"><tspan class="i">ference on Acoustics, Speech and Signal Processing (ICASSP)</tspan>,</text>
<text x="3497" y="832">2022, pp. 161–165.</text>
<text x="3492" y="851" class="rn">[15]</text><text x="3497" y="851" textLength="300">H. Liu, Q. Kong, Q. Tian, Y. Zhao, D. Wang, C. Huang, and</text>
<text x="3497" y="864" textLength="300">Y. Wang, “Voicefixer: Toward general speech restoration with</text>
<text x="3497" y="877">neural vocoder,” <tspan class="i">arXiv preprint arXiv:2109.13731</tspan>, 2021.</text>
<text x="3492" y="895" class="rn">[16]</text><text x="3497" y="895" textLength="300">K. Zhang, Y. Ren, C. Xu, and Z. Zhao, “WSRGlow: A Glow-</text>
<text x="3497" y="908" textLength="300">Based Waveform Generative Model for Audio Super-Resolution,”</text>
<text x="3497" y="921">in <tspan class="i">INTERSPEECH</tspan>, 2021, pp. 1649–1653.</text>
<text x="3492" y="940" class="rn">[17]</text><text x="3497" y="940" textLength="300">L. Chi, B. Jiang, and Y. Mu, “Fast fourier convolution,” in <tspan class="i">Ad-</tspan></text>
<text x="3497" y="953" textLength="300"><tspan class="i">vances in Neural Information Processing Systems</tspan>, vol. 33, 2020,</text>
<text x="3497" y="966">pp. 4479–4488.</text>
<text x="3492" y="984" class="rn">[18]</text><text x="3497" y="984" textLength="300">R. Suvorov, E. Logacheva, A. Mashikhin, A. Remizova,</text>
<text x="3497" y="997" textLength="300">A. Ashukha, A. Silvestrov, N. Kong, H. Goka, K. Park, and</text>
<text x="3497" y="1010" textLength="300">V. Lempitsky, “Resolution-robust large mask inpainting with</text>
<text x="3497" y="1023" textLength="300">fourier convolutions,” in <tspan class="i">Proceedings of the IEEE/CVF Winter</tspan></text>
<text x="3497" y="1036" textLength="300"><tspan class="i">Conference on Applications of Computer Vision</tspan>, 2022, pp. 2149–</text>
<text x="3497" y="1049">2159.</text>

<text x="3858" y="117" class="rn">[19]</text><text x="3862" y="117" textLength="298">X. Wang, K. Yu, C. Dong, and C. C. Loy, “Recovering realistic</text>
<text x="3862" y="130" textLength="298">texture in image super-resolution by deep spatial feature trans-</text>
<text x="3862" y="143" textLength="298">form,” in <tspan class="i">Proceedings of the IEEE conference on computer vision</tspan></text>
<text x="3862" y="156"><tspan class="i">and pattern recognition</tspan>, 2018, pp. 606–615.</text>
<text x="3858" y="174" class="rn">[20]</text><text x="3862" y="174" textLength="298">T. Park, M.-Y. Liu, T.-C. Wang, and J.-Y. Zhu, “Semantic im-</text>
<text x="3862" y="187" textLength="298">age synthesis with spatially-adaptive normalization,” in <tspan class="i">Proceed-</tspan></text>
<text x="3862" y="200" textLength="298"><tspan class="i">ings of the IEEE/CVF conference on computer vision and pattern</tspan></text>
<text x="3862" y="213"><tspan class="i">recognition</tspan>, 2019, pp. 2337–2346.</text>
<text x="3858" y="231" class="rn">[21]</text><text x="3862" y="231" textLength="298">J. Ho and T. Salimans, “Classifier-free diffusion guidance,” in</text>
<text x="3862" y="244" textLength="298"><tspan class="i">NeurIPS 2021 Workshop on Deep Generative Models and Down-</tspan></text>
<text x="3862" y="257"><tspan class="i">stream Applications</tspan>, 2021.</text>
<text x="3858" y="275" class="rn">[22]</text><text x="3862" y="275" textLength="298">Y. Song, J. Sohl-Dickstein, D. P. Kingma, A. Kumar, S. Ermon,</text>
<text x="3862" y="288" textLength="298">and B. Poole, “Score-based generative modeling through stochas-</text>
<text x="3862" y="301" textLength="298">tic differential equations,” in <tspan class="i">International Conference on Learn-</tspan></text>
<text x="3862" y="314"><tspan class="i">ing Representations</tspan>, 2021.</text>
<text x="3858" y="332" class="rn">[23]</text><text x="3862" y="332" textLength="298">D. P. Kingma, T. Salimans, B. Poole, and J. Ho, “Variational dif-</text>
<text x="3862" y="345" textLength="298">fusion models,” in <tspan class="i">Advances in Neural Information Processing</tspan></text>
<text x="3862" y="358"><tspan class="i">Systems</tspan>, 2021.</text>
<text x="3858" y="376" class="rn">[24]</text><text x="3862" y="376" textLength="298">T. Salimans and J. Ho, “Progressive distillation for fast sampling</text>
<text x="3862" y="389" textLength="298">of diffusion models,” in <tspan class="i">International Conference on Learning</tspan></text>
<text x="3862" y="402"><tspan class="i">Representations</tspan>, 2022.</text>
<text x="3858" y="420" class="rn">[25]</text><text x="3862" y="420" textLength="298">J. Song, C. Meng, and S. Ermon, “Denoising diffusion implicit</text>
<text x="3862" y="433" textLength="298">models,” in <tspan class="i">International Conference on Learning Representa-</tspan></text>
<text x="3862" y="446"><tspan class="i">tions</tspan>, 2021.</text>
<text x="3858" y="464" class="rn">[26]</text><text x="3862" y="464" textLength="298">C. Saharia, J. Ho, W. Chan, T. Salimans, D. J. Fleet, and</text>
<text x="3862" y="477" textLength="298">M. Norouzi, “Image super-resolution via iterative refinement,”</text>
<text x="3862" y="490"><tspan class="i">arXiv preprint arXiv:2104.07636</tspan>, 2021.</text>
<text x="3858" y="508" class="rn">[27]</text><text x="3862" y="508" textLength="298">E. O. Brigham and R. Morrow, “The fast fourier transform,” <tspan class="i">IEEE</tspan></text>
<text x="3862" y="521"><tspan class="i">spectrum</tspan>, vol. 4, no. 12, pp. 63–70, 1967.</text>
<text x="3858" y="539" class="rn">[28]</text><text x="3862" y="539" textLength="298">C. Veaux, J. Yamagishi, K. MacDonald <tspan class="i">et al.</tspan>, “Superseded-</text>
<text x="3862" y="552" textLength="298">cstr vctk corpus: English multi-speaker corpus for cstr</text>
<text x="3862" y="565" textLength="298">voice cloning toolkit(version 0.92),” 2016. [Online]. Available:</text>
<text x="3862" y="578">https://datashare.ed.ac.uk/handle/10283/3443</text>
<text x="3858" y="597" class="rn">[29]</text><text x="3862" y="597" textLength="298">D. P. Kingma and J. Ba, “Adam: A method for stochastic opti-</text>
<text x="3862" y="610" textLength="298">mization,” in <tspan class="i">International Conference on Learning Representa-</tspan></text>
<text x="3862" y="623"><tspan class="i">tions</tspan>, 2015.</text>
<text x="3858" y="641" class="rn">[30]</text><text x="3862" y="641" textLength="298">K. Ito and L. Johnson, “The lj speech dataset,” https://keithito.</text>
<text x="3862" y="654">com/LJ-Speech-Dataset/, 2017.</text>
</g>
</g>
</g>
</svg>
